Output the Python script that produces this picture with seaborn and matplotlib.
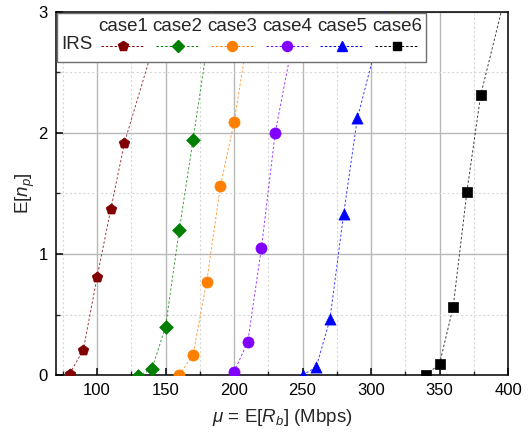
import numpy as np
import pandas as pd
import matplotlib
matplotlib.use("Agg")
import matplotlib.pyplot as plt
import seaborn as sns
from matplotlib.lines import Line2D
from matplotlib.ticker import MultipleLocator
from matplotlib.offsetbox import TextArea, DrawingArea, HPacker, VPacker, AnchoredOffsetbox

# ---------------- data ----------------
cases = ["case1", "case2", "case3", "case4", "case5", "case6"]
legend_row_label = "IRS"

mu_case1 = [80, 90, 100, 110, 120]
np_case1 = [0.01, 0.21, 0.81, 1.37, 1.92]
mu_case2 = [130, 140, 150, 160, 170]
np_case2 = [-0.01, 0.05, 0.40, 1.20, 1.94]
mu_case3 = [160, 170, 180, 190, 200]
np_case3 = [0.0, 0.165, 0.77, 1.56, 2.09]
mu_case4 = [200, 210, 220, 230]
np_case4 = [0.025, 0.275, 1.05, 2.0]
mu_case5 = [250, 260, 270, 280, 290]
np_case5 = [0.0, 0.065, 0.46, 1.33, 2.12]
mu_case6 = [340, 350, 360, 370, 380]
np_case6 = [0.0, 0.09, 0.565, 1.515, 2.31]

# where each dashed curve leaves the top of the plot (E[n_p] = 3)
mu_curve_top = [148.5, 184, 213, 247, 310, 395]
np_curve_top = [3.0, 3.0, 3.0, 3.0, 3.0, 3.0]

x_ticks = [100, 150, 200, 250, 300, 350, 400]
y_ticks = [0, 1, 2, 3]

colors = ["#800000", "#008000", "#FF8000", "#8000FF", "#0000FF", "#000000"]
markers = ["p", "D", "o", "o", "^", "s"]
marker_sizes = [8, 7, 8, 8, 8, 7]

# ---------------- tables ----------------
mus = [mu_case1, mu_case2, mu_case3, mu_case4, mu_case5, mu_case6]
nps = [np_case1, np_case2, np_case3, np_case4, np_case5, np_case6]
pts = pd.concat([pd.DataFrame({"mu": m, "Enp": n, "case": c})
                 for m, n, c in zip(mus, nps, cases)], ignore_index=True)
curve = pd.concat([pts, pd.DataFrame({"mu": mu_curve_top, "Enp": np_curve_top, "case": cases})],
                  ignore_index=True).sort_values(["case", "mu"])

# ---------------- style ----------------
sns.set_style("white")
plt.rcParams["font.family"] = ["Liberation Sans", "DejaVu Sans"]
plt.rcParams["mathtext.fontset"] = "custom"
plt.rcParams["mathtext.rm"] = "Liberation Sans"
plt.rcParams["mathtext.it"] = "Liberation Sans:italic"

fig = plt.figure(figsize=(5.29, 4.36), dpi=100)
ax = fig.add_axes([56 / 529, 1 - 375 / 436, (508 - 56) / 529, (375 - 12) / 436])

palette = dict(zip(cases, colors))
sns.lineplot(data=curve, x="mu", y="Enp", hue="case", palette=palette, sort=False,
             estimator=None, legend=False, ax=ax, linewidth=0.7, alpha=0.75,
             dashes=False, linestyle=(0, (2.5, 2)), zorder=3)
for c, mk, ms in zip(cases, markers, marker_sizes):
    sub = pts[pts["case"] == c]
    sns.scatterplot(data=sub, x="mu", y="Enp", color=palette[c], marker=mk,
                    s=ms ** 2, edgecolor=palette[c], linewidth=0.5, legend=False,
                    ax=ax, zorder=4)

ax.set_xlim(70, 400)
ax.set_ylim(0, 3)
ax.set_xticks(x_ticks)
ax.set_yticks(y_ticks)
ax.xaxis.set_minor_locator(MultipleLocator(25))
ax.yaxis.set_minor_locator(MultipleLocator(0.5))
ax.grid(True, which="major", color="#b8b8b8", linewidth=1.0, linestyle="-")
ax.grid(True, which="minor", color="#d8d8d8", linewidth=0.8, linestyle=(0, (2, 2)))
ax.set_axisbelow(True)
for s in ax.spines.values():
    s.set_visible(True)
    s.set_color("black")
    s.set_linewidth(1.1)
ax.tick_params(axis="both", which="major", direction="in", length=5, width=1.1,
               labelsize=12, colors="black", left=True, bottom=True, pad=6)
ax.tick_params(axis="both", which="minor", direction="in", length=3, width=1.0,
               left=True, bottom=True)
ax.set_xlabel(r"$\mu$ = E[$R_b$] (Mbps)", fontsize=13.5, labelpad=6)
ax.set_ylabel(r"E[$n_p$]", fontsize=13.5, labelpad=1)

# ---------------- legend (Origin-style: column headers above handles) ----------------
fs = 13.5
cols = [VPacker(children=[TextArea(" ", textprops=dict(size=fs)),
                          TextArea(legend_row_label, textprops=dict(size=fs))],
                align="left", pad=0, sep=1)]
for c, col, mk, ms in zip(cases, colors, markers, marker_sizes):
    da = DrawingArea(31, 15, 0, 0)
    da.add_artist(Line2D([0, 15.5, 31], [7.5, 7.5, 7.5], color=col, lw=0.7, alpha=1.0,
                         linestyle=(0, (2.5, 2)), marker=mk, markersize=ms * 0.9,
                         markevery=[1], markerfacecolor=col, markeredgecolor=col))
    cols.append(VPacker(children=[TextArea(c, textprops=dict(size=fs)), da],
                        align="center", pad=0, sep=1))
box = HPacker(children=cols, align="top", pad=0, sep=3.5)
anch = AnchoredOffsetbox(loc="upper left", child=box, pad=0.25, borderpad=0.05,
                         frameon=True, bbox_to_anchor=(0, 1),
                         bbox_transform=ax.transAxes, prop=dict(size=fs))
anch.patch.set_edgecolor("#707070")
anch.patch.set_linewidth(1.0)
anch.patch.set_boxstyle("square", pad=0)
anch.set_zorder(10)
ax.add_artist(anch)

fig.savefig("out.png", dpi=100)
